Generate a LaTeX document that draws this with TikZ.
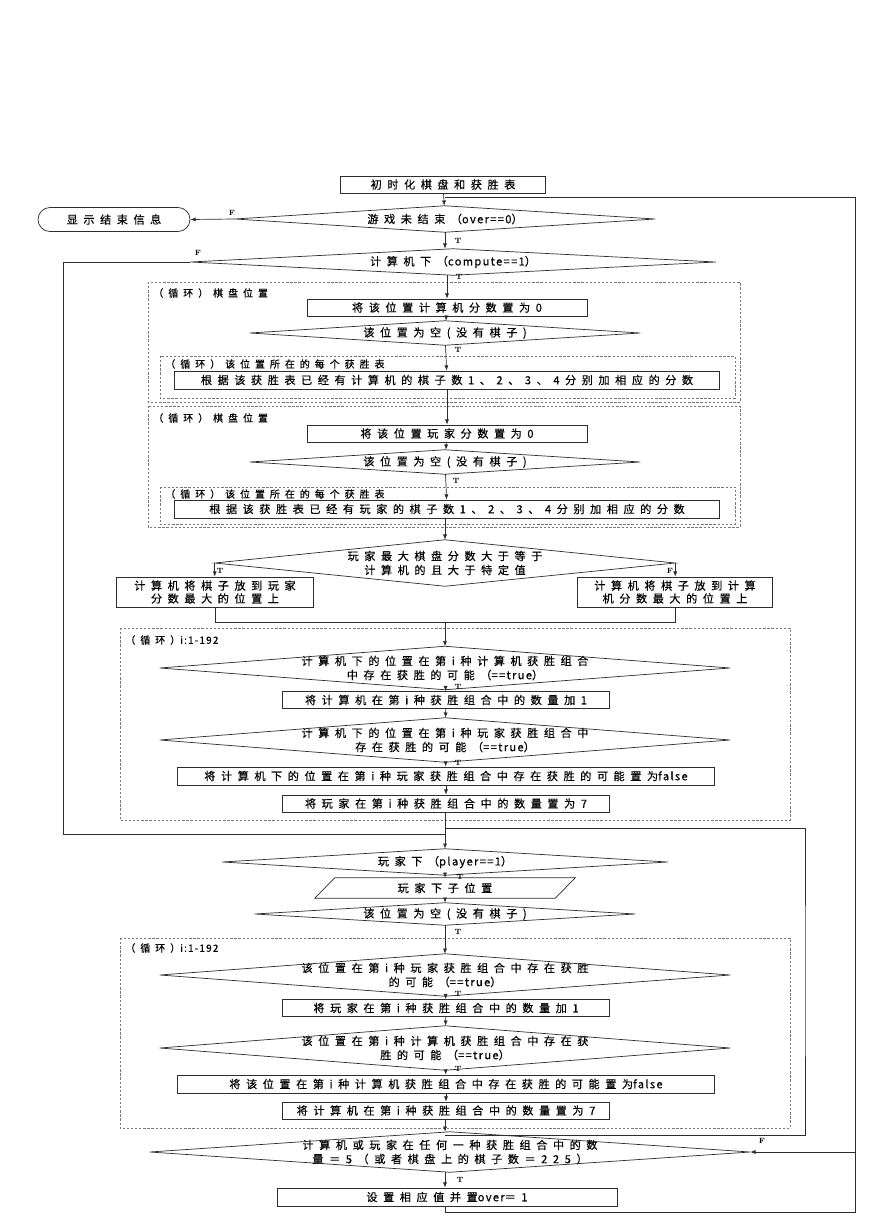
\documentclass[tikz,border=0pt]{standalone}
\usepackage{fontspec}
\usepackage{tikz}
\usetikzlibrary{arrows.meta, positioning, calc}
\newfontfamily\cjk[LetterSpace=50, FakeBold=0.4]{Noto Sans CJK SC}
\newfontfamily\cjklat[LetterSpace=12, FakeBold=0.4]{Noto Sans CJK SC}
\newcommand{\lat}[1]{{\cjklat #1}}
\definecolor{LineGray}{RGB}{45, 45, 45}
\definecolor{FrameGray}{RGB}{120, 120, 120}

\tikzset{
  flowline/.style={draw=LineGray, line width=0.6pt},
  flowarrow/.style={flowline, -{Latex[length=4.5pt,width=3.5pt]}},
  procbox/.style={draw=LineGray, line width=0.6pt, fill=white, inner sep=1pt, align=center,
                  minimum width=#1, minimum height=0.51cm, font=\cjk\fontsize{9.5}{11}\selectfont},
  decision/.style n args={2}{inner sep=0pt, align=center, minimum width=#1, minimum height=#2,
                  font=\cjk\fontsize{9.5}{12}\selectfont},
  loopframe/.style={draw=FrameGray, line width=0.5pt, dash pattern=on 2pt off 1.5pt},
  looplabel/.style={anchor=west, inner sep=1pt, font=\cjk\fontsize{8.5}{10}\selectfont},
  tflab/.style={inner sep=0pt, font=\rmfamily\bfseries\fontsize{6.5}{7}\selectfont}
}

\begin{document}
\begin{tikzpicture}[x=0.03cm, y=-0.03cm]
  \fill[white] (0,0) rectangle (869,1228);
  \useasboundingbox (0,0) rectangle (869,1228);

  % loop frames
  \draw[loopframe] (148,282) rectangle (740,402);
  \draw[loopframe] (160,356) rectangle (735,398);
  \draw[loopframe] (148,406) rectangle (740,527);
  \draw[loopframe] (160,487) rectangle (735,524);
  \draw[loopframe] (120,628) rectangle (790,820);
  \draw[loopframe] (120,938) rectangle (790,1128);
  \node[looplabel] (labA) at (152,293) {（循环）棋盘位置};
  \node[looplabel] (labB) at (164,364) {（循环）该位置所在的每个获胜表};
  \node[looplabel] (labC) at (152,418) {（循环）棋盘位置};
  \node[looplabel] (labD) at (164,494) {（循环）该位置所在的每个获胜表};
  \node[looplabel] (labE) at (124,640) {（循环）\lat{i:1-192}};
  \node[looplabel] (labF) at (124,948) {（循环）\lat{i:1-192}};

  % computer part
  \node[procbox=6.15cm] (init) at (443,184.5) {初时化棋盘和获胜表};
  \node[decision={12.6cm}{0.78cm}] (over) at (445,219) {游戏未结束（\lat{over==0}）};
  \node[procbox=4.56cm, minimum height=0.72cm, rounded corners=0.36cm] (endmsg) at (114,219.5) {显示结束信息};
  \node[decision={15.75cm}{0.78cm}] (comp) at (453,262) {计算机下（\lat{compute==1}）};
  \node[procbox=8.4cm] (setc) at (447,307.5) {将该位置计算机分数置为0};
  \node[decision={11.7cm}{0.72cm}] (emptyc) at (445,333) {该位置为空(没有棋子)};
  \node[procbox=16.35cm, minimum height=0.54cm] (addc) at (447,380) {根据该获胜表已经有计算机的棋子数1、2、3、4分别加相应的分数};
  \node[procbox=8.4cm] (setp) at (447,433.5) {将该位置玩家分数置为0};
  \node[decision={11.7cm}{0.72cm}] (emptyp) at (445,462) {该位置为空(没有棋子)};
  \node[procbox=16.35cm, minimum height=0.54cm] (addp) at (447,509) {根据该获胜表已经有玩家的棋子数1、2、3、4分别加相应的分数};
  \node[decision={13.8cm}{1.38cm}] (cmp) at (445,563) {玩家最大棋盘分数大于等于\\计算机的且大于特定值};
  \node[procbox=5.91cm, minimum height=0.9cm] (putp) at (215,592) {计算机将棋子放到玩家\\分数最大的位置上};
  \node[procbox=5.85cm, minimum height=0.9cm] (putc) at (675,592) {计算机将棋子放到计算\\机分数最大的位置上};
  \node[decision={17.1cm}{1.29cm}] (winc) at (445,668) {计算机下的位置在第i种计算机获胜组合\\中存在获胜的可能（\lat{==true}）};
  \node[procbox=9.81cm] (incc) at (446,700) {将计算机在第i种获胜组合中的数量加1};
  \node[decision={17.1cm}{1.32cm}] (winp) at (445,740) {计算机下的位置在第i种玩家获胜组合中\\存在获胜的可能（\lat{==true}）};
  \node[procbox=16.11cm, minimum height=0.54cm] (falsep) at (446,776) {将计算机下的位置在第i种玩家获胜组合中存在获胜的可能置为\lat{false}};
  \node[procbox=9.81cm] (sevenp) at (446,803.5) {将玩家在第i种获胜组合中的数量置为7};

  % player part
  \node[decision={13.35cm}{0.78cm}] (player) at (445,862) {玩家下（\lat{player==1}）};
  \node[inner sep=0pt, minimum width=7.8cm, minimum height=0.6cm, font=\cjk\fontsize{9.5}{11}\selectfont] (input) at (445,888) {玩家下子位置};
  \node[decision={11.4cm}{0.66cm}] (emptyq) at (445,914) {该位置为空(没有棋子)};
  \node[decision={17.1cm}{1.26cm}] (winp2) at (445,975) {该位置在第i种玩家获胜组合中存在获胜\\的可能（\lat{==true}）};
  \node[procbox=9.81cm] (incp) at (446,1008) {将玩家在第i种获胜组合中的数量加1};
  \node[decision={17.1cm}{1.32cm}] (winc2) at (445,1048) {该位置在第i种计算机获胜组合中存在获\\胜的可能（\lat{==true}）};
  \node[procbox=16.11cm, minimum height=0.54cm] (falsec) at (446,1084) {将该位置在第i种计算机获胜组合中存在获胜的可能置为\lat{false}};
  \node[procbox=9.81cm] (sevenc) at (446,1110.5) {将计算机在第i种获胜组合中的数量置为7};
  \node[decision={18cm}{1.2cm}] (finish) at (450,1152) {计算机或玩家在任何一种获胜组合中的数\\量＝5（或者棋盘上的棋子数＝225）};
  \node[procbox=10.2cm, minimum height=0.54cm] (setover) at (447,1197) {设置相应值并置\lat{over}＝1};

  % outlines of decisions and input
  \foreach \d in {over,comp,emptyc,emptyp,cmp,winc,winp,player,emptyq,winp2,winc2,finish}
    \draw[flowline] (\d.west) -- (\d.north) -- (\d.east) -- (\d.south) -- cycle;
  \draw[flowline] (input.south west) -- ($(input.north west)+(20,0)$) -- (input.north east)
    -- ($(input.south east)+(-20,0)$) -- cycle;

  % helper points
  \coordinate (loopin) at (445,197);
  \coordinate (merge) at (445,622);
  \coordinate (joinc) at (445,834);
  \coordinate (byp) at (63,834);
  \coordinate (brt) at (445,828);
  \coordinate (bright) at (805,980);
  \coordinate (brb) at (445,1135);
  \coordinate (rb) at (855,1212);

  % connectors
  \draw[flowarrow] (init) -- (over);
  \draw[flowarrow] (over.west) -- (endmsg.east);
  \draw[flowarrow] (over.south) -- (comp.north -| over.south);
  \draw[flowarrow] (comp.south -| setc.north) -- (setc.north);
  \draw[flowarrow] (setc) -- (emptyc);
  \draw[flowarrow] (emptyc) -- (addc);
  \draw[flowarrow] (addc.south -| setp.north) -- (setp.north);
  \draw[flowarrow] (setp) -- (emptyp);
  \draw[flowarrow] (emptyp) -- (addp);
  \draw[flowarrow] (addp.south -| cmp.north) -- (cmp.north);
  \draw[flowarrow] (cmp.west) -- (cmp.west |- putp.north);
  \draw[flowarrow] (cmp.east) -- (cmp.east |- putc.north);
  \draw[flowline] (putp.south) |- (merge);
  \draw[flowline] (putc.south) |- (merge);
  \draw[flowarrow] (merge) -- (winc.north);
  \draw[flowarrow] (winc) -- (incc);
  \draw[flowarrow] (incc) -- (winp);
  \draw[flowarrow] (winp) -- (falsep);
  \draw[flowarrow] (falsep) -- (sevenp);
  \draw[flowline] (sevenp.south -| joinc) -- (joinc);
  \draw[flowline] (comp.west) -| (byp) -- (joinc);
  \draw[flowarrow] (joinc) -- (player.north);
  \draw[flowline] (brt) -| (bright) |- (brb);
  \draw[flowarrow] (player) -- (input);
  \draw[flowarrow] (input) -- (emptyq);
  \draw[flowarrow] (emptyq) -- (winp2);
  \draw[flowarrow] (winp2) -- (incp);
  \draw[flowarrow] (incp) -- (winc2);
  \draw[flowarrow] (winc2) -- (falsec);
  \draw[flowarrow] (falsec) -- (sevenc);
  \draw[flowarrow] (sevenc.south -| brb) -- (finish.north -| brb);
  \draw[flowarrow] (finish.south -| brb) -- (setover.north -| brb);
  \draw[flowline] (setover.south -| brb) |- (rb) -- (rb |- loopin) -- (loopin);
  \draw[flowarrow] (rb |- finish.east) -- (finish.east);

  % T / F labels
  \node[tflab] (fover) at (232,213) {F};
  \node[tflab] (fcomp) at (198,253) {F};
  \node[tflab] (tover) at (458,241) {T};
  \node[tflab] (tcomp) at (459,277) {T};
  \node[tflab] (temc) at (458,350) {T};
  \node[tflab] (temp) at (456,481) {T};
  \node[tflab] (tcmp) at (220,571) {T};
  \node[tflab] (fcmp) at (670,571) {F};
  \node[tflab] (twinc) at (458,687) {T};
  \node[tflab] (twinp) at (458,763) {T};
  \node[tflab] (tplay) at (460,877) {T};
  \node[tflab] (temq) at (458,932) {T};
  \node[tflab] (twp2) at (458,994) {T};
  \node[tflab] (twc2) at (458,1069) {T};
  \node[tflab] (ffin) at (762,1141) {F};
  \node[tflab] (tfin) at (460,1180) {T};
\end{tikzpicture}
\end{document}
